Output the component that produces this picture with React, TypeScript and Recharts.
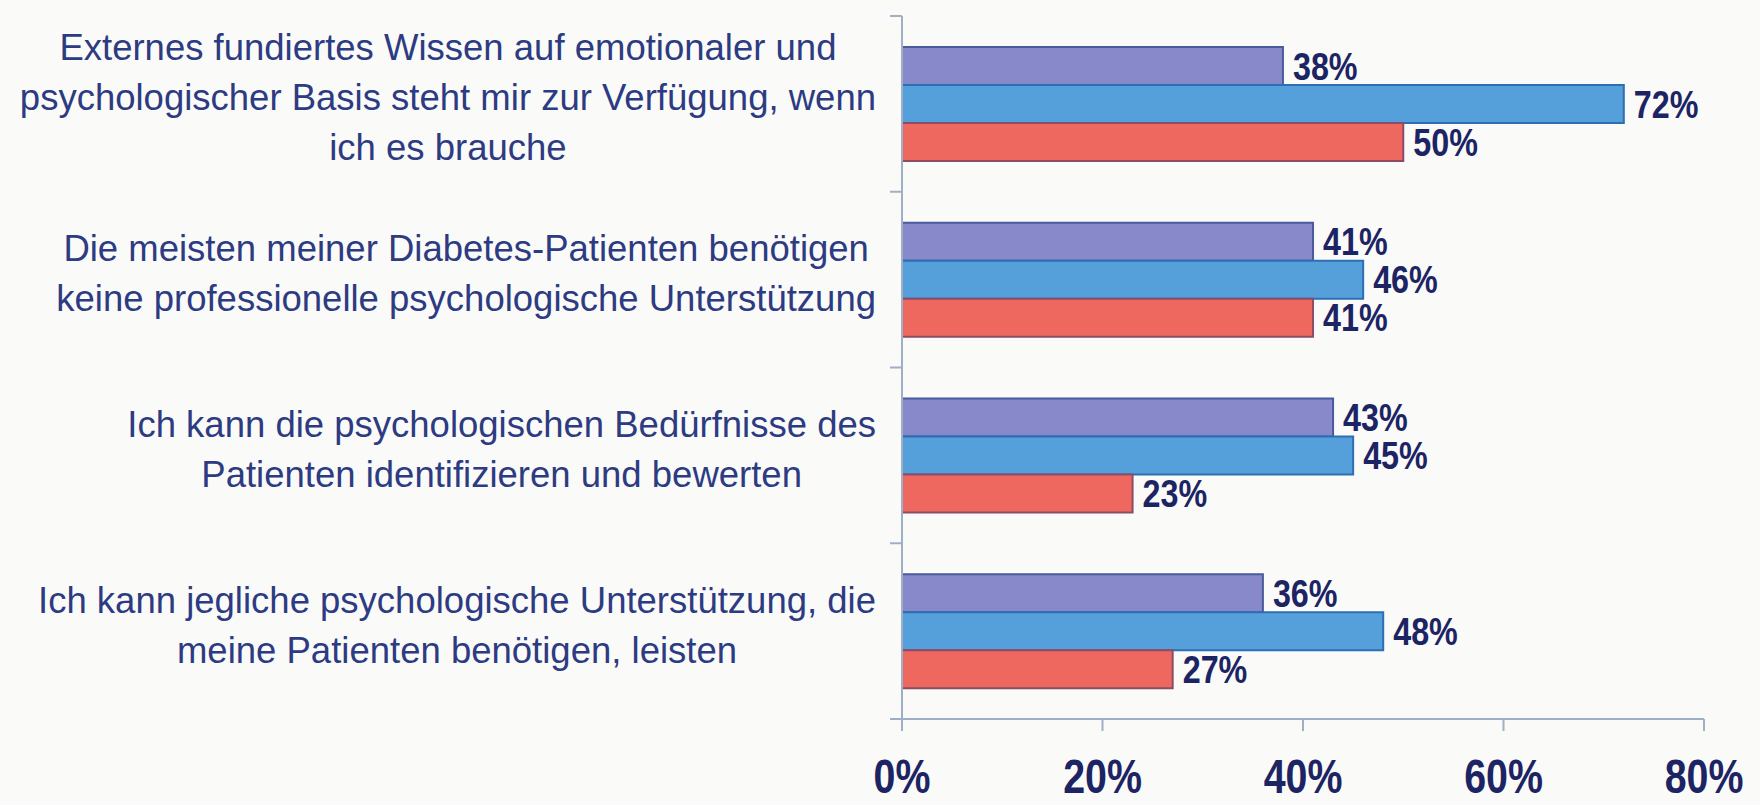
import React from 'react';
import { BarChart, Bar, XAxis, YAxis, LabelList } from 'recharts';

const categories = [
  'Externes fundiertes Wissen auf emotionaler und\npsychologischer Basis steht mir zur Verfügung, wenn\nich es brauche',
  'Die meisten meiner Diabetes-Patienten benötigen\nkeine professionelle psychologische Unterstützung',
  'Ich kann die psychologischen Bedürfnisse des\nPatienten identifizieren und bewerten',
  'Ich kann jegliche psychologische Unterstützung, die\nmeine Patienten benötigen, leisten',
];
const purpleValues = [38, 41, 43, 36];
const blueValues = [72, 46, 45, 48];
const redValues = [50, 41, 23, 27];
const xTicks = [0, 20, 40, 60, 80];

const data = categories.map((name, i) => ({
  name,
  purple: purpleValues[i],
  blue: blueValues[i],
  red: redValues[i],
}));

const Y_WIDTH = 902;
const LABEL_RIGHT = 876;
const CAT_FONT = 36.5;
const FAMILY = '"Liberation Sans", Arial, sans-serif';
const SQUEEZE = 0.82; // the source font is a condensed one
const INK = '#1C2463';
const AXIS = '#9FB0C6';

let ctx: CanvasRenderingContext2D | null = null;
function measure(text: string): number {
  if (!ctx) ctx = document.createElement('canvas').getContext('2d');
  if (!ctx) return text.length * CAT_FONT * 0.5;
  ctx.font = `${CAT_FONT}px ${FAMILY}`;
  return ctx.measureText(text).width;
}

function CategoryTick(props: any) {
  const { y, payload, index, visibleTicksCount } = props;
  const lines: string[] = String(payload.value).split('\n');
  const half = payload.offset || 88;
  const blockW = Math.max(...lines.map(measure));
  const cx = LABEL_RIGHT - blockW / 2;
  const n = lines.length;
  return (
    <g>
      {lines.map((line, k) => (
        <text
          key={k}
          x={cx}
          y={y + (k - (n - 1) / 2) * 50 + CAT_FONT * 0.26 - 3}
          textAnchor="middle"
          fontFamily={FAMILY}
          fontSize={CAT_FONT}
          fill="#2D3B82"
        >
          {line}
        </text>
      ))}
      <line x1={Y_WIDTH - 12} x2={Y_WIDTH} y1={y - half} y2={y - half} stroke={AXIS} strokeWidth={2} />
      {index === (visibleTicksCount ?? categories.length) - 1 && (
        <line x1={Y_WIDTH - 12} x2={Y_WIDTH} y1={y + half} y2={y + half} stroke={AXIS} strokeWidth={2} />
      )}
    </g>
  );
}

function PercentTick(props: any) {
  const { x, y, payload } = props;
  return (
    <text
      transform={`translate(${x},${y}) scale(${SQUEEZE},1)`}
      textAnchor="middle"
      dy="0.71em"
      fontFamily={FAMILY}
      fontWeight={700}
      fontSize={48}
      fill={INK}
    >
      {`${payload.value}%`}
    </text>
  );
}

function ValueLabel(props: any) {
  const { x, y, width, height, value } = props;
  const tx = Number(x) + Number(width) + 10;
  const ty = Number(y) + Number(height) / 2;
  return (
    <text
      transform={`translate(${tx},${ty}) scale(0.85,1)`}
      textAnchor="start"
      dy="0.36em"
      fontFamily={FAMILY}
      fontWeight={700}
      fontSize={38}
      fill={INK}
    >
      {`${value}%`}
    </text>
  );
}

export default function App() {
  return (
    <div style={{ position: 'absolute', left: 0, top: 0, width: 1760, height: 805, background: '#FAFAF8' }}>
      <BarChart
        width={1760}
        height={805}
        data={data}
        layout="vertical"
        margin={{ top: 16, right: 56, left: 0, bottom: 0 }}
        barGap={0}
        barSize={38}
      >
        <XAxis
          type="number"
          domain={[0, 80]}
          ticks={xTicks}
          height={86}
          axisLine={{ stroke: AXIS, strokeWidth: 2 }}
          tickLine={{ stroke: AXIS, strokeWidth: 2 }}
          tickSize={12}
          tickMargin={28}
          tick={<PercentTick />}
        />
        <YAxis
          type="category"
          dataKey="name"
          width={Y_WIDTH}
          axisLine={{ stroke: AXIS, strokeWidth: 2 }}
          tickLine={false}
          tick={<CategoryTick />}
          interval={0}
        />
        <Bar dataKey="purple" fill="#8789CB" stroke="#4A5A9C" strokeWidth={2} isAnimationActive={false}>
          <LabelList dataKey="purple" content={<ValueLabel />} />
        </Bar>
        <Bar dataKey="blue" fill="#55A0DB" stroke="#2E6FB3" strokeWidth={2} isAnimationActive={false}>
          <LabelList dataKey="blue" content={<ValueLabel />} />
        </Bar>
        <Bar dataKey="red" fill="#EE685F" stroke="#8C4C68" strokeWidth={2} isAnimationActive={false}>
          <LabelList dataKey="red" content={<ValueLabel />} />
        </Bar>
      </BarChart>
    </div>
  );
}
